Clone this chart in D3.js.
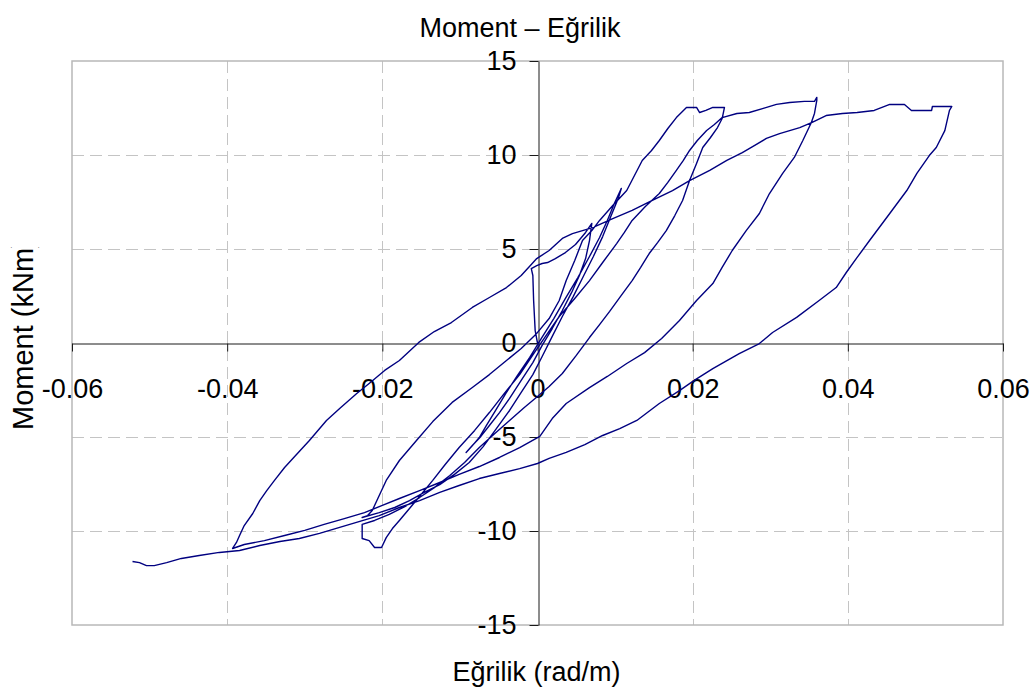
<!DOCTYPE html>
<html>
<head>
<meta charset="utf-8">
<script src="https://cdn.jsdelivr.net/npm/d3@7"></script>
<style>
  html, body { margin: 0; padding: 0; background: #ffffff; }
  svg { display: block; }
  text { font-family: "Liberation Sans", Arial, sans-serif; fill: #000; }
</style>
</head>
<body>
<svg id="chart" width="1035" height="689"></svg>
<script>
// ---- Chart text ----
const chartTitle = "Moment – Eğrilik";
const xTitle = "Eğrilik (rad/m)";
const yTitle = "Moment (kNm)";

// ---- Tick values ----
const xTicks = [-0.06, -0.04, -0.02, 0, 0.02, 0.04, 0.06];
const yTicks = [-15, -10, -5, 0, 5, 10, 15];

// ---- Series: curvature (rad/m) and moment (kNm), in loading order ----
// initial loading and first small cycle
const phase0Curv = [0, -0.0003, -0.0005, -0.0006, -0.0008, -0.0001, 0.0006, 0.0013, 0.0023, 0.0036, 0.0049, 0.0062, 0.0070,
  0.0067, 0.0062, 0.0054, 0.0044, 0.0032, 0.0019, 0.0006, -0.0006, -0.0021, -0.0036, -0.0049, -0.0062, -0.0073, -0.0084, -0.0092,
  -0.0085, -0.0075, -0.0066, -0.0054, -0.0041, -0.0026, -0.0010, 0.0005, 0.0021, 0.0036, 0.0052, 0.0067, 0.0080, 0.0090, 0.0099, 0.0108];
const phase0Mom = [0, 0.66, 2.26, 3.59, 3.96, 4.12, 4.23, 4.28, 4.49, 4.81, 5.24, 5.88, 6.36,
  5.45, 4.49, 3.59, 2.69, 1.73, 0.77, -0.13, -1.04, -1.99, -2.95, -3.70, -4.39, -4.97, -5.45, -5.82,
  -5.51, -5.03, -4.39, -3.59, -2.69, -1.73, -0.77, 0.24, 1.30, 2.37, 3.48, 4.60, 5.61, 6.52, 7.42, 8.22];

// unloading to about -0.022, reloading to about +0.024
const phase1Curv = [0.0104, 0.0095, 0.0084, 0.0072, 0.0059, 0.0046, 0.0032, 0.0019, 0.0006, -0.0006, -0.0021, -0.0036, -0.0053,
  -0.0070, -0.0088, -0.0107, -0.0126, -0.0146, -0.0165, -0.0184, -0.0204, -0.0226,
  -0.0219, -0.0213, -0.0204, -0.0195, -0.0178, -0.0156, -0.0135, -0.0110, -0.0084, -0.0062, -0.0040, -0.0021, -0.0001,
  0.0015, 0.0028, 0.0037, 0.0048, 0.0058, 0.0070, 0.0080, 0.0097, 0.0115, 0.0125, 0.0135, 0.0147, 0.0157, 0.0168, 0.0179,
  0.0192, 0.0205, 0.0209, 0.0217, 0.0226, 0.0241];
const phase1Mom = [7.69, 6.78, 5.66, 4.60, 3.54, 2.47, 1.41, 0.35, -0.72, -1.68, -2.63, -3.59, -4.55,
  -5.51, -6.36, -6.99, -7.53, -7.95, -8.38, -8.75, -9.02, -9.28,
  -9.18, -8.91, -8.11, -7.31, -6.25, -5.19, -4.18, -3.16, -2.37, -1.68, -0.93, -0.29, 0.51,
  1.30, 2.26, 3.32, 4.39, 5.45, 5.98, 6.52, 7.31, 8.11, 8.91, 9.71, 10.24, 10.77, 11.41, 11.99,
  12.53, 12.53, 12.26, 12.37, 12.53, 12.53];

// unloading to about -0.021, reloading to about +0.036
const phase2Curv = [0.0238, 0.0232, 0.0223, 0.0213, 0.0205, 0.0196, 0.0187, 0.0177, 0.0166, 0.0155, 0.0144, 0.0133, 0.0122,
  0.0108, 0.0093, 0.0080, 0.0067, 0.0050, 0.0032, 0.0015, 0.0000, -0.0017, -0.0036, -0.0055, -0.0075, -0.0094, -0.0113,
  -0.0133, -0.0152, -0.0171, -0.0191, -0.0210, -0.0226, -0.0226, -0.0217, -0.0210, -0.0201, -0.0195,
  -0.0187, -0.0178, -0.0165, -0.0150, -0.0135, -0.0119, -0.0101, -0.0081, -0.0062, -0.0043, -0.0023, -0.0004, 0.0013,
  0.0028, 0.0048, 0.0067, 0.0084, 0.0102, 0.0112, 0.0122, 0.0139, 0.0157, 0.0168, 0.0179, 0.0188, 0.0196, 0.0206,
  0.0218, 0.0228, 0.0238, 0.0257, 0.0273, 0.0290, 0.0308, 0.0325, 0.0344, 0.0357, 0.0360];
const phase2Mom = [11.94, 11.46, 10.93, 10.40, 9.55, 8.64, 7.58, 6.78, 5.98, 5.35, 4.76, 4.02, 3.32,
  2.53, 1.68, 0.98, 0.29, -0.66, -1.62, -2.31, -2.85, -3.43, -4.12, -4.81, -5.56, -6.36, -7.05,
  -7.69, -8.22, -8.70, -9.12, -9.44, -9.65, -10.40, -10.51, -10.88, -10.88, -10.35,
  -9.87, -9.44, -8.80, -8.06, -7.31, -6.46, -5.56, -4.65, -3.70, -2.69, -1.68, -0.51, 0.51,
  1.41, 2.37, 3.32, 4.28, 5.29, 5.88, 6.52, 7.26, 7.95, 8.54, 9.18, 9.71, 10.24, 10.77,
  11.30, 11.62, 11.99, 12.21, 12.26, 12.47, 12.69, 12.79, 12.85, 12.85, 13.06];

// unloading to about -0.039, reloading to about +0.053
const phase3Curv = [0.0360, 0.0357, 0.0353, 0.0342, 0.0331, 0.0316, 0.0299, 0.0286, 0.0269, 0.0251, 0.0238, 0.0226, 0.0205,
  0.0183, 0.0160, 0.0138, 0.0115, 0.0090, 0.0067, 0.0037, 0.0019, 0.0003, -0.0023, -0.0049, -0.0075, -0.0101, -0.0126,
  -0.0152, -0.0178, -0.0200, -0.0223, -0.0249, -0.0275, -0.0300, -0.0326, -0.0352, -0.0378, -0.0393,
  -0.0388, -0.0384, -0.0378, -0.0367, -0.0358, -0.0349, -0.0339, -0.0326, -0.0313, -0.0294, -0.0272, -0.0255, -0.0233,
  -0.0217, -0.0197, -0.0178, -0.0153, -0.0133, -0.0111, -0.0084, -0.0062, -0.0040, -0.0021, -0.0008, -0.0001, 0.0015,
  0.0032, 0.0045, 0.0071, 0.0097, 0.0122, 0.0148, 0.0174, 0.0196, 0.0222, 0.0244, 0.0264, 0.0280, 0.0295, 0.0312,
  0.0325, 0.0338, 0.0354, 0.0372, 0.0393, 0.0412, 0.0434, 0.0454, 0.0473, 0.0482, 0.0508, 0.0509, 0.0534];
const phase3Mom = [12.90, 12.21, 11.73, 10.77, 9.87, 9.02, 7.95, 6.89, 5.98, 4.92, 4.02, 3.16, 2.26,
  1.20, 0.24, -0.51, -1.09, -1.78, -2.37, -3.22, -4.02, -4.97, -5.56, -6.09, -6.57, -6.99, -7.42,
  -7.85, -8.27, -8.64, -9.02, -9.34, -9.65, -9.97, -10.24, -10.51, -10.72, -10.93,
  -10.61, -10.24, -9.71, -9.07, -8.38, -7.85, -7.31, -6.62, -6.04, -5.19, -4.12, -3.48, -2.69,
  -2.15, -1.46, -0.93, 0.03, 0.61, 1.09, 1.89, 2.42, 2.95, 3.59, 4.18, 4.49, 4.92,
  5.56, 5.82, 6.14, 6.62, 7.05, 7.58, 8.11, 8.64, 9.18, 9.71, 10.13, 10.51, 10.88, 11.14,
  11.30, 11.46, 11.73, 12.10, 12.21, 12.26, 12.37, 12.69, 12.69, 12.37, 12.37, 12.58, 12.58];

// final unloading to about -0.052
const phase4Curv = [0.0531, 0.0525, 0.0514, 0.0505, 0.0489, 0.0476, 0.0454, 0.0428, 0.0412, 0.0398, 0.0385, 0.0363, 0.0334,
  0.0303, 0.0286, 0.0260, 0.0226, 0.0202, 0.0183, 0.0157, 0.0128, 0.0106, 0.0084, 0.0061, 0.0037, 0.0015, 0.0000,
  -0.0023, -0.0049, -0.0075, -0.0101, -0.0126, -0.0152, -0.0178, -0.0204, -0.0229, -0.0255, -0.0281, -0.0307,
  -0.0332, -0.0358, -0.0384, -0.0410, -0.0436, -0.0459, -0.0478, -0.0494, -0.0504, -0.0513, -0.0522];
const phase4Mom = [12.37, 11.30, 10.40, 9.97, 9.02, 8.11, 6.89, 5.45, 4.55, 3.75, 2.95, 2.26, 1.36,
  0.56, -0.03, -0.56, -1.36, -1.99, -2.53, -3.22, -4.12, -4.55, -4.92, -5.40, -5.82, -6.14, -6.41,
  -6.68, -6.94, -7.21, -7.58, -7.95, -8.38, -8.75, -9.18, -9.49, -9.81, -10.13, -10.40,
  -10.56, -10.77, -11.04, -11.14, -11.30, -11.46, -11.68, -11.84, -11.84, -11.68, -11.62];

const curvature = [].concat(phase0Curv, phase1Curv, phase2Curv, phase3Curv, phase4Curv);
const moment = [].concat(phase0Mom, phase1Mom, phase2Mom, phase3Mom, phase4Mom);
const points = curvature.map((c, i) => [c, moment[i]]);

// ---- Layout ----
const svg = d3.select("#chart");
const plot = { left: 72, right: 1003, top: 61, bottom: 625 };
const FONT = 27;

const x = d3.scaleLinear().domain([-0.06, 0.06]).range([plot.left, plot.right]);
const y = d3.scaleLinear().domain([-15, 15]).range([plot.bottom, plot.top]);

// grid
const grid = svg.append("g").attr("class", "grid")
  .attr("stroke", "#c4c4c4").attr("stroke-width", 1).attr("stroke-dasharray", "12,6");
grid.selectAll("line.v").data(xTicks.filter(t => t !== 0 && Math.abs(t) < 0.059)).enter()
  .append("line").attr("class", "v")
  .attr("x1", d => Math.round(x(d)) + 0.5).attr("x2", d => Math.round(x(d)) + 0.5)
  .attr("y1", plot.top).attr("y2", plot.bottom);
grid.selectAll("line.h").data(yTicks.filter(t => t !== 0 && Math.abs(t) < 14.9)).enter()
  .append("line").attr("class", "h")
  .attr("y1", d => Math.round(y(d)) + 0.5).attr("y2", d => Math.round(y(d)) + 0.5)
  .attr("x1", plot.left).attr("x2", plot.right);

// plot border
svg.append("rect")
  .attr("x", plot.left).attr("y", plot.top)
  .attr("width", plot.right - plot.left).attr("height", plot.bottom - plot.top)
  .attr("fill", "none").attr("stroke", "#b8b8b8").attr("stroke-width", 1.5);

// tick label formats with a plain hyphen-minus, as in the original
const fmtX = d => d === 0 ? "0" : d.toFixed(2);
const fmtY = d => String(d);

// x axis through moment = 0
const xAxis = d3.axisBottom(x).tickValues(xTicks)
  .tickFormat(fmtX)
  .tickSize(8).tickSizeOuter(0).tickPadding(27);
const gx = svg.append("g").attr("transform", `translate(0,${Math.round(y(0)) + 0.5})`).call(xAxis);
gx.attr("font-family", null);
gx.selectAll("text").attr("font-size", FONT).attr("fill", "#000");
gx.selectAll("path, line").attr("stroke", "#1a1a1a");

// y axis through curvature = 0
const yAxis = d3.axisLeft(y).tickValues(yTicks)
  .tickFormat(fmtY)
  .tickSize(9).tickSizeOuter(0).tickPadding(13);
const gy = svg.append("g").attr("transform", `translate(${Math.round(x(0)) + 0.5},0)`).call(yAxis);
gy.attr("font-family", null);
gy.selectAll("text").attr("font-size", FONT).attr("fill", "#000");
gy.selectAll("path, line").attr("stroke", "#1a1a1a");

// series line
const line = d3.line().x(d => x(d[0])).y(d => y(d[1]));
svg.append("path").datum(points)
  .attr("d", line)
  .attr("fill", "none")
  .attr("stroke", "#000080")
  .attr("stroke-width", 1.4)
  .attr("stroke-linejoin", "round");

// titles
svg.append("text").attr("x", 520).attr("y", 37)
  .attr("text-anchor", "middle").attr("font-size", FONT).text(chartTitle);
svg.append("text").attr("x", 536.5).attr("y", 681)
  .attr("text-anchor", "middle").attr("font-size", FONT).text(xTitle);

svg.append("clipPath").attr("id", "ytitle-clip")
  .append("rect").attr("x", 0).attr("y", 247).attr("width", 70).attr("height", 400);
svg.append("g").attr("clip-path", "url(#ytitle-clip)")
  .append("text")
  .attr("transform", "translate(33,430) rotate(-90)")
  .attr("text-anchor", "start").attr("font-size", 29).text(yTitle);
</script>
</body>
</html>
